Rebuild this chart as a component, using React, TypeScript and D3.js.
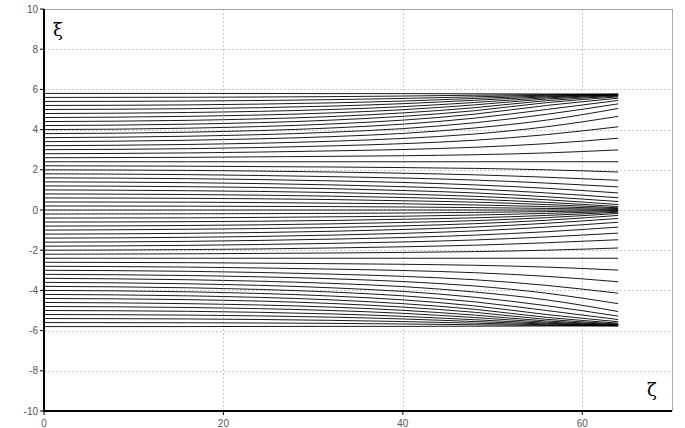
import React from "react";
import * as d3 from "d3";

const xTicks = [0, 20, 40, 60];
const yTicks = [-10, -8, -6, -4, -2, 0, 2, 4, 6, 8, 10];
const zetaStations = [0, 16, 32, 40, 48, 56, 64];

// ξ values of each line at the ζ stations
const xiLines: number[][] = [
  [5.8, 5.8, 5.79, 5.79, 5.78, 5.77, 5.77],
  [5.6, 5.61, 5.64, 5.67, 5.71, 5.74, 5.76],
  [5.4, 5.42, 5.49, 5.55, 5.63, 5.71, 5.75],
  [5.2, 5.23, 5.33, 5.42, 5.55, 5.67, 5.74],
  [5.0, 5.04, 5.17, 5.29, 5.46, 5.63, 5.73],
  [4.8, 4.85, 5.0, 5.14, 5.35, 5.58, 5.72],
  [4.6, 4.66, 4.83, 4.99, 5.23, 5.52, 5.7],
  [4.4, 4.46, 4.65, 4.83, 5.09, 5.44, 5.67],
  [4.2, 4.27, 4.47, 4.66, 4.94, 5.34, 5.63],
  [4.0, 4.07, 4.28, 4.47, 4.77, 5.2, 5.56],
  [3.8, 3.87, 4.08, 4.27, 4.57, 5.0, 5.45],
  [3.6, 3.67, 3.87, 4.05, 4.34, 4.76, 5.28],
  [3.4, 3.47, 3.65, 3.81, 4.08, 4.47, 5.05],
  [3.2, 3.26, 3.42, 3.56, 3.78, 4.14, 4.66],
  [3.0, 3.05, 3.19, 3.3, 3.47, 3.75, 4.14],
  [2.8, 2.84, 2.94, 3.01, 3.12, 3.3, 3.57],
  [2.6, 2.62, 2.67, 2.7, 2.75, 2.84, 2.99],
  [2.4, 2.4, 2.4, 2.4, 2.4, 2.4, 2.4],
  [2.2, 2.18, 2.14, 2.11, 2.07, 2.0, 1.89],
  [2.0, 1.97, 1.89, 1.83, 1.75, 1.63, 1.48],
  [1.8, 1.76, 1.66, 1.59, 1.49, 1.34, 1.15],
  [1.6, 1.56, 1.45, 1.37, 1.25, 1.08, 0.85],
  [1.4, 1.36, 1.25, 1.16, 1.04, 0.85, 0.61],
  [1.2, 1.16, 1.06, 0.97, 0.85, 0.66, 0.42],
  [1.0, 0.96, 0.87, 0.79, 0.68, 0.51, 0.27],
  [0.8, 0.77, 0.69, 0.62, 0.53, 0.38, 0.17],
  [0.6, 0.58, 0.52, 0.46, 0.39, 0.27, 0.11],
  [0.4, 0.39, 0.34, 0.31, 0.25, 0.17, 0.07],
  [0.2, 0.19, 0.17, 0.15, 0.12, 0.08, 0.03],
  [0, 0, 0, 0, 0, 0, 0],
  [-0.2, -0.19, -0.17, -0.15, -0.12, -0.08, -0.03],
  [-0.4, -0.39, -0.34, -0.31, -0.25, -0.17, -0.07],
  [-0.6, -0.58, -0.52, -0.46, -0.39, -0.27, -0.11],
  [-0.8, -0.77, -0.69, -0.62, -0.53, -0.38, -0.17],
  [-1.0, -0.96, -0.87, -0.79, -0.68, -0.51, -0.27],
  [-1.2, -1.16, -1.06, -0.97, -0.85, -0.66, -0.42],
  [-1.4, -1.36, -1.25, -1.16, -1.04, -0.85, -0.61],
  [-1.6, -1.56, -1.45, -1.37, -1.25, -1.08, -0.85],
  [-1.8, -1.76, -1.66, -1.59, -1.49, -1.34, -1.15],
  [-2.0, -1.97, -1.89, -1.83, -1.75, -1.63, -1.48],
  [-2.2, -2.18, -2.14, -2.11, -2.07, -2.0, -1.89],
  [-2.4, -2.4, -2.4, -2.4, -2.4, -2.4, -2.4],
  [-2.6, -2.62, -2.67, -2.7, -2.75, -2.84, -2.99],
  [-2.8, -2.84, -2.94, -3.01, -3.12, -3.3, -3.57],
  [-3.0, -3.05, -3.19, -3.3, -3.47, -3.75, -4.14],
  [-3.2, -3.26, -3.42, -3.56, -3.78, -4.14, -4.66],
  [-3.4, -3.47, -3.65, -3.81, -4.08, -4.47, -5.05],
  [-3.6, -3.67, -3.87, -4.05, -4.34, -4.76, -5.28],
  [-3.8, -3.87, -4.08, -4.27, -4.57, -5.0, -5.45],
  [-4.0, -4.07, -4.28, -4.47, -4.77, -5.2, -5.56],
  [-4.2, -4.27, -4.47, -4.66, -4.94, -5.34, -5.63],
  [-4.4, -4.46, -4.65, -4.83, -5.09, -5.44, -5.67],
  [-4.6, -4.66, -4.83, -4.99, -5.23, -5.52, -5.7],
  [-4.8, -4.85, -5.0, -5.14, -5.35, -5.58, -5.72],
  [-5.0, -5.04, -5.17, -5.29, -5.46, -5.63, -5.73],
  [-5.2, -5.23, -5.33, -5.42, -5.55, -5.67, -5.74],
  [-5.4, -5.42, -5.49, -5.55, -5.63, -5.71, -5.75],
  [-5.6, -5.61, -5.64, -5.67, -5.71, -5.74, -5.76],
  [-5.8, -5.8, -5.79, -5.79, -5.78, -5.77, -5.77],
];

const W = 685;
const H = 428;
const left = 44;
const right = 672;
const top = 9;
const bottom = 411;

export default function App() {
  const x = d3.scaleLinear().domain([0, 70]).range([left, right]);
  const y = d3.scaleLinear().domain([-10, 10]).range([bottom, top]);
  const line = d3
    .line<[number, number]>()
    .x((d) => x(d[0]))
    .y((d) => y(d[1]))
    .curve(d3.curveMonotoneX);

  const font = "'Liberation Sans', Arial, sans-serif";

  return (
    <svg
      width={W}
      height={H}
      style={{ position: "absolute", left: 0, top: 0, background: "#fff" }}
    >
      {/* grid */}
      {yTicks
        .filter((t) => t !== -10 && t !== 10)
        .map((t) => (
          <line
            key={"gy" + t}
            x1={left}
            x2={right}
            y1={Math.round(y(t)) + 0.5}
            y2={Math.round(y(t)) + 0.5}
            stroke="#c8c8c8"
            strokeDasharray="2,2"
          />
        ))}
      {xTicks
        .filter((t) => t !== 0)
        .map((t) => (
          <line
            key={"gx" + t}
            x1={Math.round(x(t)) + 0.5}
            x2={Math.round(x(t)) + 0.5}
            y1={top}
            y2={bottom}
            stroke="#c8c8c8"
            strokeDasharray="2,2"
          />
        ))}
      {/* frame top/right */}
      <line x1={left} x2={right} y1={top + 0.5} y2={top + 0.5} stroke="#a8a8a8" />
      <line x1={right + 0.5} x2={right + 0.5} y1={top} y2={bottom} stroke="#a8a8a8" />

      {/* data lines */}
      {xiLines.map((vals, i) => (
        <path
          key={i}
          d={line(vals.map((v, j) => [zetaStations[j], v] as [number, number])) || ""}
          fill="none"
          stroke="#000"
          strokeWidth={0.9}
        />
      ))}

      {/* axes */}
      <line x1={left} x2={left} y1={top} y2={bottom + 1} stroke="#000" strokeWidth={2} />
      <line x1={left - 1} x2={right} y1={bottom} y2={bottom} stroke="#000" strokeWidth={2} />
      {yTicks.map((t) => (
        <g key={"ty" + t}>
          <line x1={left - 4} x2={left} y1={y(t)} y2={y(t)} stroke="#000" strokeWidth={1} />
          <text
            x={left - 6}
            y={y(t)}
            dy="0.35em"
            textAnchor="end"
            fontFamily={font}
            fontSize={10}
            fill="#555"
          >
            {t}
          </text>
        </g>
      ))}
      {xTicks.map((t) => (
        <g key={"tx" + t}>
          <line x1={x(t)} x2={x(t)} y1={bottom} y2={bottom + 4} stroke="#000" strokeWidth={1} />
          <text
            x={x(t)}
            y={bottom + 16}
            textAnchor="middle"
            fontFamily={font}
            fontSize={10}
            fill="#555"
          >
            {t}
          </text>
        </g>
      ))}

      {/* axis labels */}
      <text x={53} y={36} fontFamily="'DejaVu Serif', serif" fontSize={18} fill="#000">
        ξ
      </text>
      <text x={647} y={396} fontFamily="'DejaVu Serif', serif" fontSize={18} fill="#000">
        ζ
      </text>
    </svg>
  );
}
